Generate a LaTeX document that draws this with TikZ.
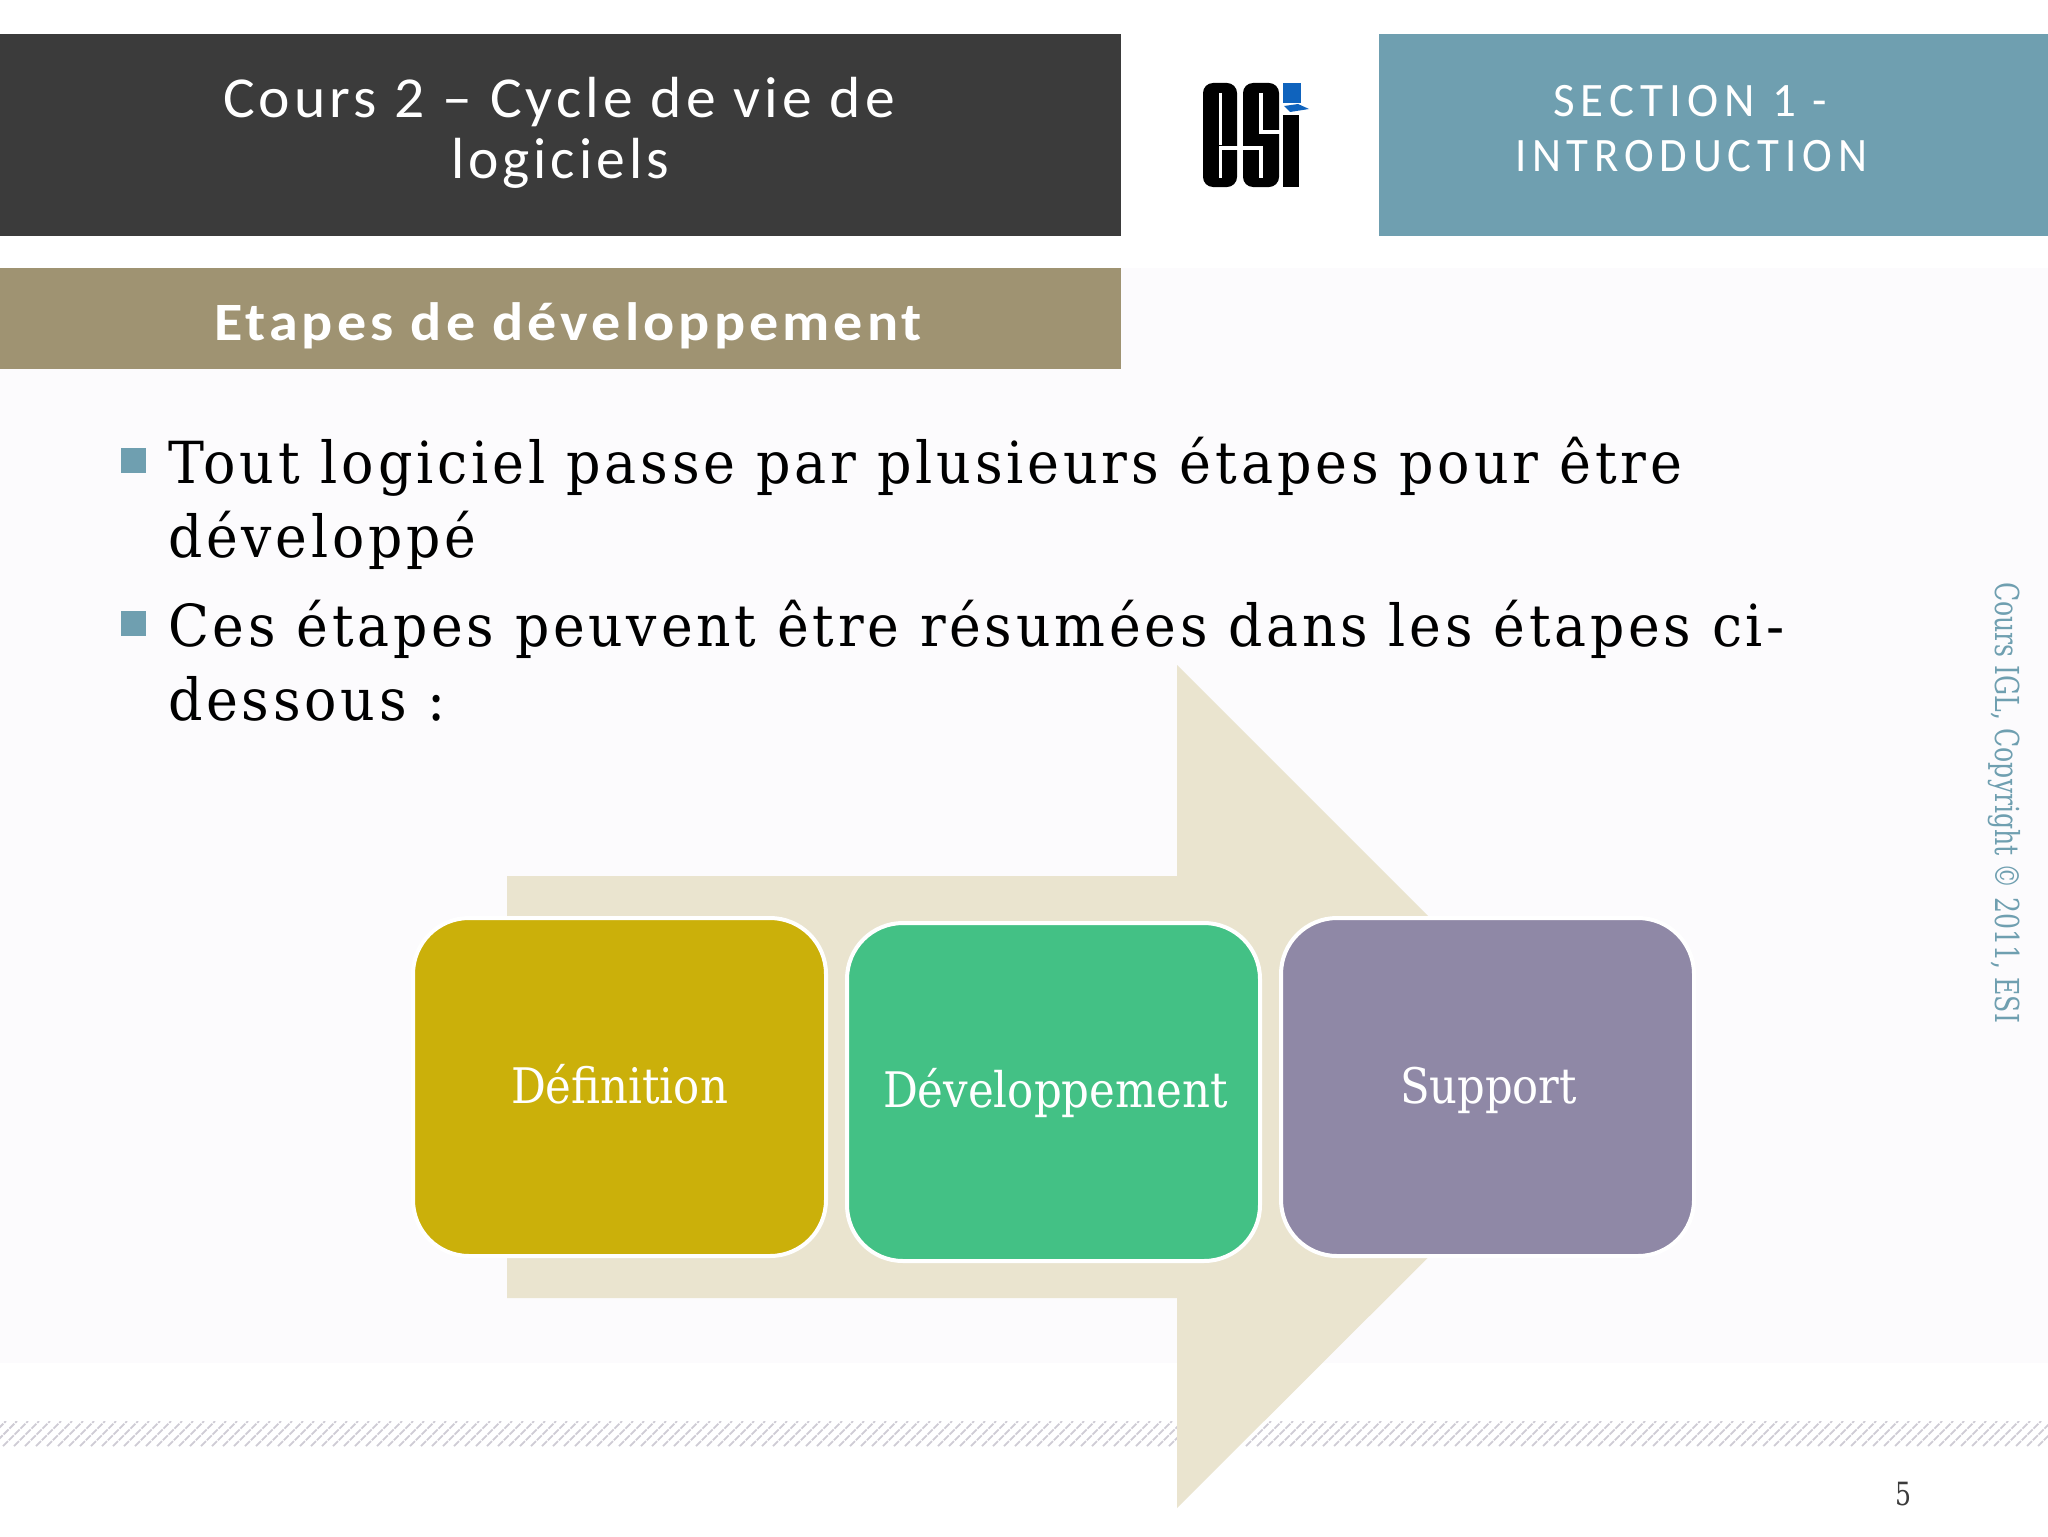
\documentclass[tikz,border=0pt]{standalone}
\usepackage{fontspec}
\usepackage{graphicx}
\setmainfont{DejaVu Serif}
\newfontfamily\ttlfont[LetterSpace=7]{Carlito}
\newfontfamily\secfont[LetterSpace=13]{Carlito}
\newfontfamily\hdfont[LetterSpace=7]{Carlito}
\newfontfamily\bodyfont[LetterSpace=7]{DejaVu Serif}
\newcommand{\fitw}[2]{\resizebox{\dimexpr #1pt/2\relax}{\height}{#2}}
\definecolor{darkbar}{HTML}{3B3B3B}
\definecolor{bluebar}{HTML}{6F9FB0}
\definecolor{tanbar}{HTML}{9F9372}
\definecolor{arrowfill}{HTML}{EAE4CF}
\definecolor{paper}{HTML}{FCFBFD}
\definecolor{boxyellow}{HTML}{CBB00A}
\definecolor{boxgreen}{HTML}{43C185}
\definecolor{boxpurple}{HTML}{8F88A6}
\definecolor{hatch}{HTML}{CFCCD5}
\definecolor{logoblue}{HTML}{0F63BD}
\tikzset{
  txt/.style={inner sep=0pt,outer sep=0pt,anchor=base west},
  stepbox/.style={draw=white,line width=2pt,rounded corners=28pt,inner sep=0pt,text=white},
  bulletbox/.style={fill=bluebar},
  slot/.style={white,line width=1.6pt,line cap=butt}
}
\begin{document}
\begin{tikzpicture}[x=0.5pt,y=-0.5pt]
\useasboundingbox (0,0) rectangle (2048,1536);
\fill[white] (0,0) rectangle (2048,1536);
\fill[paper] (1121,268) rectangle (2048,1363);
\fill[paper] (0,369) rectangle (1121,1363);
% hatch band
\begin{scope}
\clip (0,1421) rectangle (2048,1446);
\foreach \hx in {-30,-19,...,2060}
  \draw[hatch,line width=0.9pt,dash pattern=on 3.5pt off 0.6pt] (\hx,1446) -- ++(25,-25);
\end{scope}
% bars
\fill[darkbar] (0,34) rectangle (1121,236);
\fill[bluebar] (1379,34) rectangle (2048,236);
\fill[tanbar] (0,268) rectangle (1121,369);
% logo
\fill[black,rounded corners=5pt] (1203,83) rectangle (1237,187);
\fill[black,rounded corners=5pt] (1243,83) rectangle (1279,187);
\fill[black] (1283,115) rectangle (1299,187);
\draw[slot] (1220.5,93) -- (1220.5,145);
\draw[slot] (1220.5,178) -- (1220.5,148) -- (1238,148);
\draw[slot] (1261,93) -- (1261,132) -- (1280,132);
\draw[slot] (1242,148) -- (1261,148) -- (1261,178);
\fill[logoblue] (1283,83) rectangle (1301,103);
\fill[logoblue] (1284,106) -- (1298,104) -- (1309,109) -- (1290,112) -- cycle;
% arrow
\fill[arrowfill] (507,876) -- (1177,876) -- (1177,665) -- (1599,1087) -- (1177,1508) -- (1177,1298) -- (507,1298) -- cycle;
% title texts
\node[txt,text=white] (t1) at (223,117) {\fitw{672}{\ttlfont\fontsize{29pt}{29pt}\selectfont Cours 2 – Cycle de vie de}};
\node[txt,text=white] (t2) at (451,178) {\fitw{218}{\ttlfont\fontsize{29pt}{29pt}\selectfont logiciels}};
\node[txt,text=white] (s1) at (1553,117) {\fitw{274}{\secfont\fontsize{24pt}{24pt}\selectfont SECTION 1 -}};
\node[txt,text=white] (s2) at (1515,171) {\fitw{352}{\secfont\fontsize{24pt}{24pt}\selectfont INTRODUCTION}};
\node[txt,text=white] (h1) at (214,340) {\fitw{708}{\hdfont\bfseries\fontsize{27pt}{27pt}\selectfont Etapes de développement}};
% bullets
\fill[bulletbox] (121,448) rectangle (146,473);
\fill[bulletbox] (121,611) rectangle (146,636);
% body
\node[txt,text=black] (b1) at (168,483) {\fitw{1514}{\bodyfont\fontsize{29pt}{29pt}\selectfont Tout logiciel passe par plusieurs étapes pour être}};
\node[txt,text=black] (b2) at (168,557) {\fitw{308}{\bodyfont\fontsize{29pt}{29pt}\selectfont développé}};
\node[txt,text=black] (b3) at (168,646) {\fitw{1617}{\bodyfont\fontsize{29pt}{29pt}\selectfont Ces étapes peuvent être résumées dans les étapes ci-}};
\node[txt,text=black] (b4) at (168,720) {\fitw{278}{\bodyfont\fontsize{29pt}{29pt}\selectfont dessous :}};
% step boxes
\node[stepbox,fill=boxyellow,minimum width=206.5pt,minimum height=169pt] (def) at (619.5,1087) {};
\node[stepbox,fill=boxgreen,minimum width=206.5pt,minimum height=169pt] (dev) at (1053.5,1092) {};
\node[stepbox,fill=boxpurple,minimum width=206.5pt,minimum height=169pt] (sup) at (1487.5,1087) {};
\node[txt,text=white] (defl) at (511,1103) {\fitw{217}{\fontsize{24.5pt}{24.5pt}\selectfont Définition}};
\node[txt,text=white] (devl) at (883,1107) {\fitw{345}{\fontsize{24.5pt}{24.5pt}\selectfont Développement}};
\node[txt,text=white] (supl) at (1400,1103) {\fitw{177}{\fontsize{24.5pt}{24.5pt}\selectfont Support}};
% side text and page number
\node[inner sep=0pt,outer sep=0pt,anchor=base west,rotate=-90,text=bluebar] (side) at (1995,582) {\fitw{441}{\fontsize{16.5pt}{16.5pt}\selectfont Cours IGL, Copyright © 2011, ESI}};
\node[txt,text=darkbar] (pg) at (1895,1505) {\fitw{16}{\fontsize{16pt}{16pt}\selectfont 5}};
\end{tikzpicture}
\end{document}
